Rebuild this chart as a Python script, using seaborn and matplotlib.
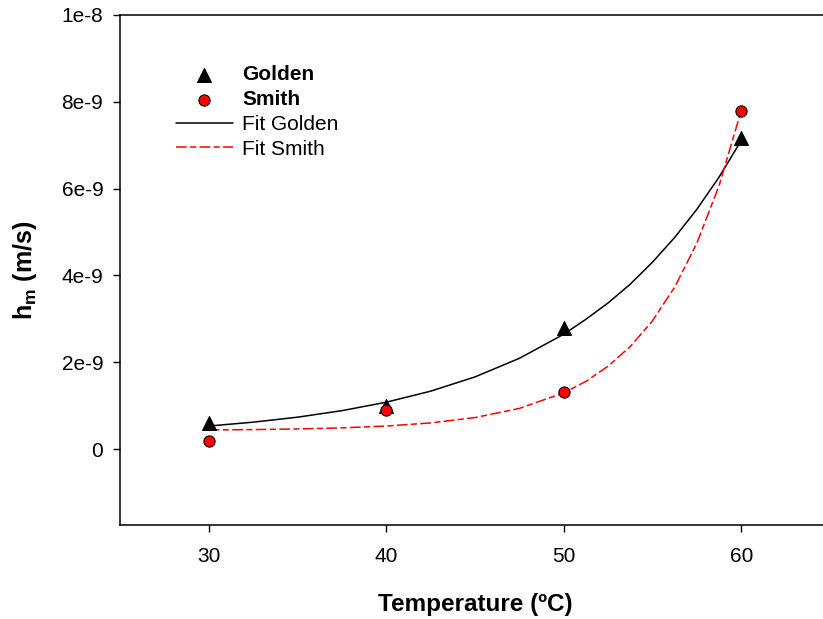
import pandas as pd
import seaborn as sns
import matplotlib.pyplot as plt

# measured points
temps = [30, 40, 50, 60]
golden = [0.60e-9, 0.99e-9, 2.79e-9, 7.17e-9]
smith = [0.18e-9, 0.90e-9, 1.31e-9, 7.79e-9]

# fitted curves (units of 1e-9 m/s)
fit_t = [30, 32.5, 35, 37.5, 40, 42.5, 45, 47.5, 50, 51.25, 52.5, 53.75, 55, 56.25,
         57.5, 58.75, 60]
fit_golden = [0.530, 0.619, 0.734, 0.884, 1.079, 1.333, 1.662, 2.090, 2.645, 2.99,
              3.367, 3.80, 4.306, 4.875, 5.524, 6.265, 7.108]
fit_smith = [0.440, 0.448, 0.463, 0.488, 0.530, 0.602, 0.725, 0.936, 1.295, 1.56,
             1.909, 2.362, 2.955, 3.730, 4.744, 6.067, 7.797]

ytick_vals = [0, 2e-9, 4e-9, 6e-9, 8e-9, 1e-8]
ytick_labels = ['0', '2e-9', '4e-9', '6e-9', '8e-9', '1e-8']
xtick_vals = [30, 40, 50, 60]

pts = pd.DataFrame({'T': temps, 'Golden': golden, 'Smith': smith})
fits = pd.DataFrame({'T': fit_t,
                     'Golden': [v * 1e-9 for v in fit_golden],
                     'Smith': [v * 1e-9 for v in fit_smith]})

sns.set_style('ticks')
plt.rcParams['font.family'] = ['Liberation Sans', 'DejaVu Sans']
plt.rcParams['text.color'] = 'black'
plt.rcParams['axes.labelcolor'] = 'black'

fig = plt.figure(figsize=(8.23, 6.19), dpi=100)
ax = fig.add_axes([120 / 823, 1 - 525 / 619, 710 / 823, 510 / 619])

sns.lineplot(data=fits, x='T', y='Golden', ax=ax, color='black', lw=1.1,
             label='Fit Golden', zorder=2)
sns.lineplot(data=fits, x='T', y='Smith', ax=ax, color='red', lw=1.1,
             dashes=False, label='Fit Smith', zorder=2)
ax.lines[-1].set_dashes((7, 2.2, 4, 2.2))

sns.scatterplot(data=pts, x='T', y='Golden', ax=ax, marker='^', color='black',
                s=100, edgecolor='black', linewidth=0.8, label='Golden', zorder=3)
sns.scatterplot(data=pts, x='T', y='Smith', ax=ax, marker='o', color='red',
                s=65, edgecolor='black', linewidth=0.8, label='Smith', zorder=3)

ax.set_xlim(25, 65)
ax.set_ylim(-1.75e-9, 1e-8)
ax.set_xticks(xtick_vals)
ax.set_xticklabels([str(v) for v in xtick_vals])
ax.set_yticks(ytick_vals)
ax.set_yticklabels(ytick_labels)
ax.tick_params(direction='out', length=5, width=1, labelsize=15, colors='black')
ax.tick_params(axis='x', pad=11)
ax.tick_params(axis='y', pad=7)
for s in ax.spines.values():
    s.set_linewidth(1.1)
    s.set_color('black')

ax.set_xlabel('Temperature (ºC)', fontsize=17.5, fontweight='bold', labelpad=19)
ax.set_ylabel(r'h$_\mathregular{m}$ (m/s)', fontsize=18, fontweight='bold', labelpad=16)

handles, labels = ax.get_legend_handles_labels()
order = [labels.index(n) for n in ['Golden', 'Smith', 'Fit Golden', 'Fit Smith']]
leg = ax.legend([handles[i] for i in order], [labels[i] for i in order],
                loc='upper left', bbox_to_anchor=(48 / 710, 0.918), frameon=False,
                fontsize=15, handlelength=2.7, handletextpad=0.45,
                labelspacing=0.28, borderaxespad=0)
for t in leg.get_texts()[:2]:
    t.set_fontweight('bold')

plt.savefig('out.png', dpi=100)
plt.close()
